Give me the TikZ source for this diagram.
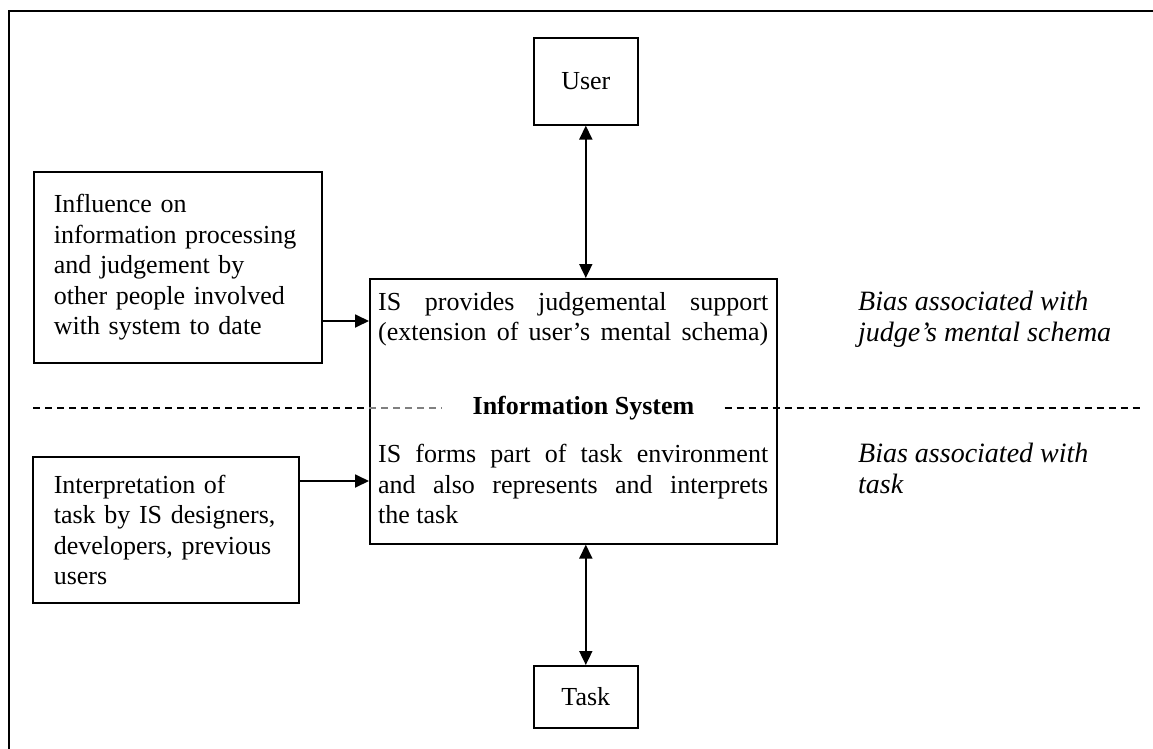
\documentclass[tikz,border=0pt]{standalone}
\usepackage{fontspec}
\setmainfont{Liberation Serif}
\usetikzlibrary{arrows.meta}
\begin{document}
\begin{tikzpicture}[x=1pt,y=-1pt,
  txt/.style={font=\fontsize{26}{30.5}\selectfont},
  box/.style={draw,line width=1.6pt,anchor=north west,txt},
  arr/.style={line width=1.8pt,-{Triangle[length=14pt,width=13pt]}},
  darr/.style={line width=1.8pt,{Triangle[length=14pt,width=13pt]}-{Triangle[length=14pt,width=13pt]}},
  divider/.style={line width=1.2pt,dash pattern=on 7pt off 5pt},
  bias/.style={font=\fontsize{28}{30.5}\selectfont\itshape,anchor=north west,align=left,inner sep=0pt}
]
\useasboundingbox (0,0) rectangle (1153,749);
% frame
\draw[line width=2.8pt] (9,749) -- (9,11) -- (1153,11);

% boxes
\node[box,minimum width=104pt,minimum height=87pt,inner sep=0pt] (user) at (533,37) {User};
\node[box,minimum width=288pt,minimum height=191pt,inner xsep=20pt,text width=248pt,align=left] (infl) at (33,171)
  {Influence on\\information processing\\and judgement by\\other people involved\\with system to date};
\node[box,minimum width=266pt,minimum height=146pt,inner xsep=21pt,text width=224pt,align=left] (interp) at (32,456)
  {Interpretation of\\task by IS designers,\\developers, previous\\users};
\node[box,minimum width=407pt,minimum height=265pt,inner sep=0pt] (is) at (369,278) {};
\node[box,minimum width=104pt,minimum height=62pt,inner sep=0pt] (task) at (533,665) {Task};

% texts inside IS
\node[txt,anchor=north west,inner sep=0pt,align=left] (istop) at (378,292)
  {\makebox[390pt][s]{IS provides judgemental support}\\\makebox[390pt][s]{(extension of user's mental schema)}};
\node[txt,anchor=north west,inner sep=0pt,align=left] (isbot) at (378,444)
  {\makebox[390pt][s]{IS forms part of task environment}\\\makebox[390pt][s]{and also represents and interprets}\\the task};
\node[font=\fontsize{26}{30.5}\selectfont\bfseries,inner xsep=30pt,inner ysep=0pt] (lab) at (583.5,408) {Information System};

% bias labels
\node[bias] (b1) at (858,291) {Bias associated with\\judge's mental schema};
\node[bias] (b2) at (858,443) {Bias associated with\\task};

% dashed divider
\coordinate (dl) at (33,408);
\coordinate (dr) at (1140,408);
\draw[divider] (dl) -- (is.west |- dl);
\draw[divider,gray] (is.west |- dl) -- (lab.west);
\draw[divider] (lab.east) -- (dr);

% connectors
\coordinate (a1) at (0,321);
\coordinate (a2) at (0,481);
\draw[arr] (infl.east |- a1) -- (is.west |- a1);
\draw[arr] (interp.east |- a2) -- (is.west |- a2);
\draw[darr] (user.south) -- (user.south |- is.north);
\draw[darr] (task.north |- is.south) -- (task.north);
\end{tikzpicture}
\end{document}
